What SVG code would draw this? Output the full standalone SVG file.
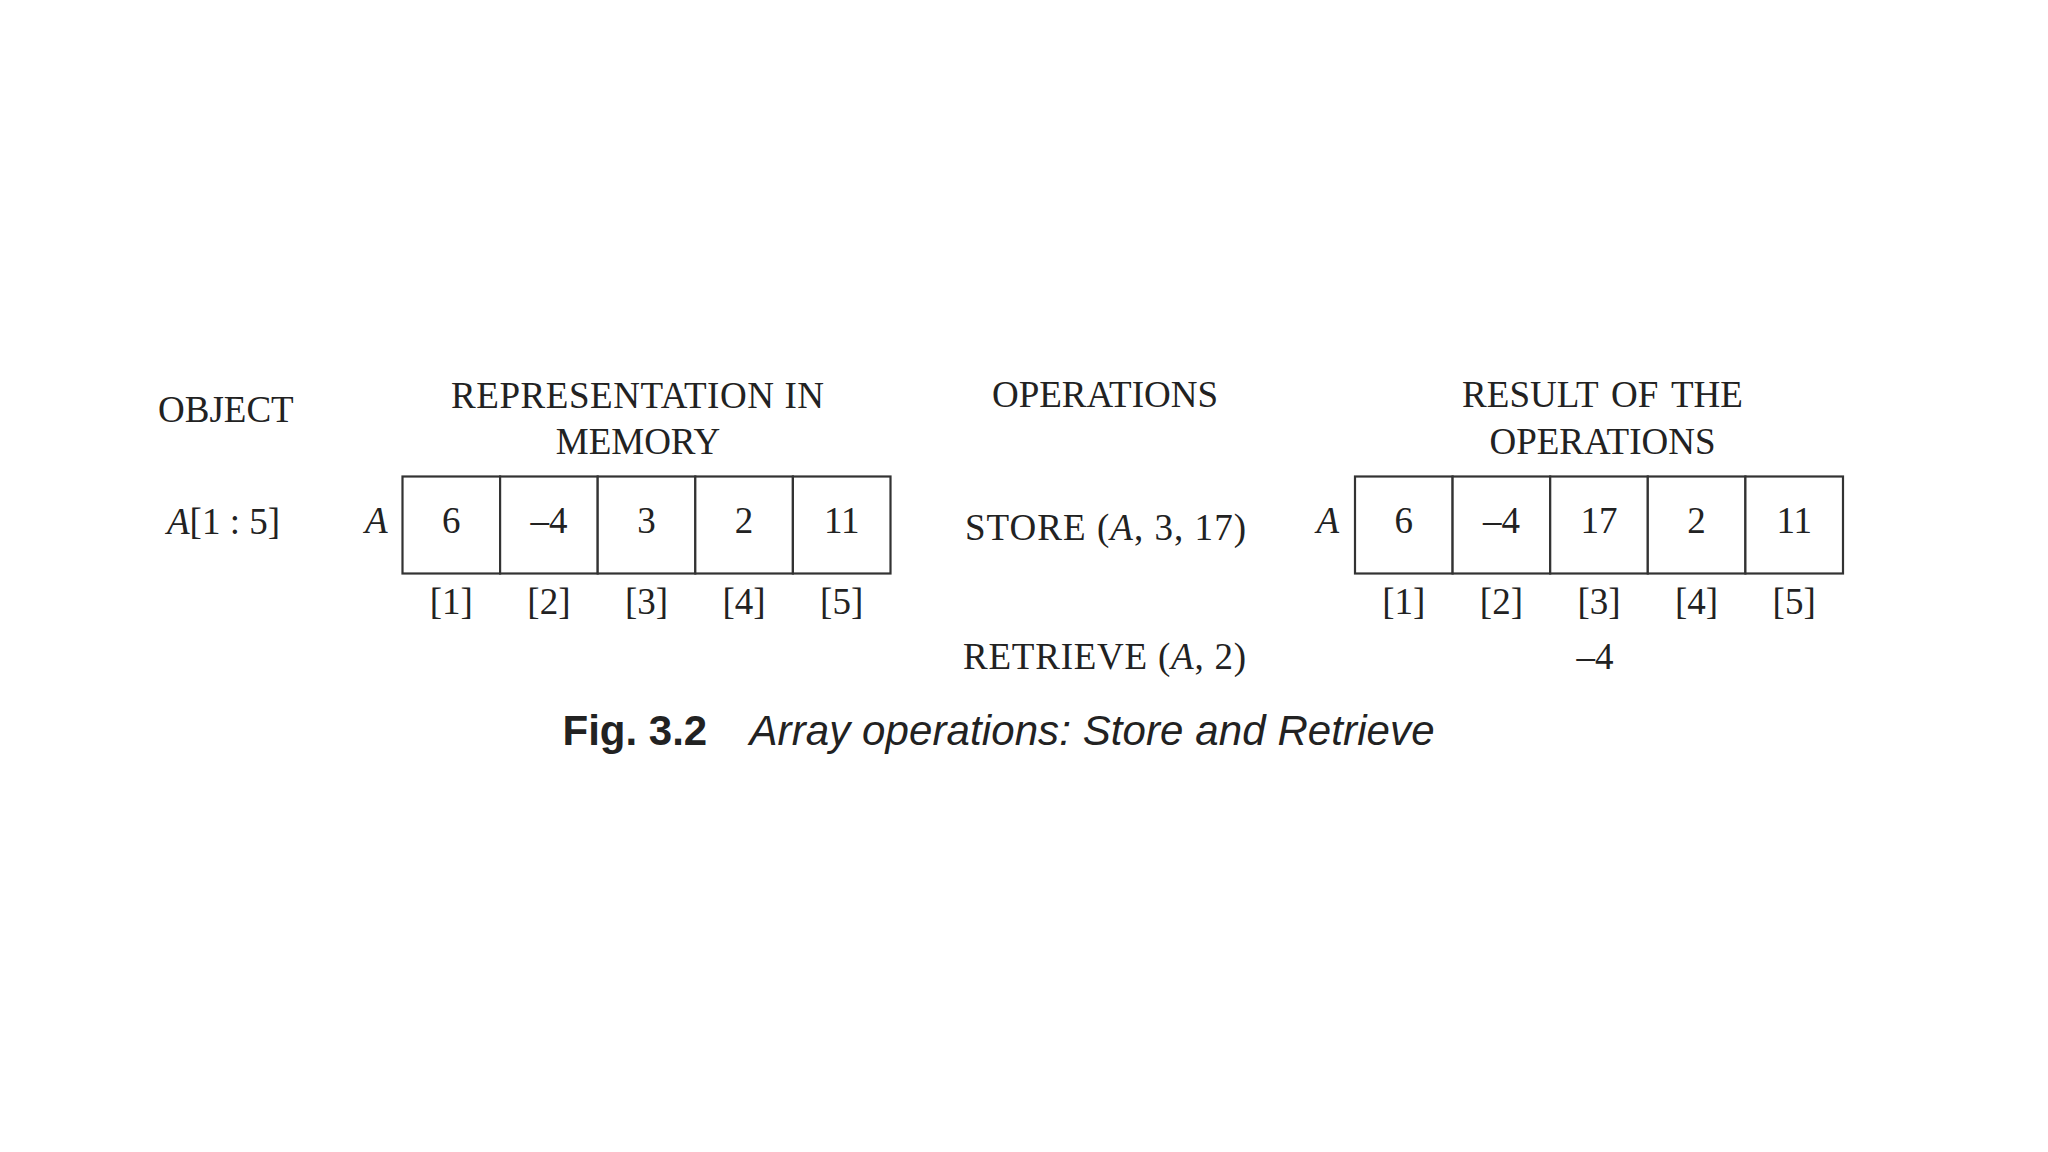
<svg xmlns="http://www.w3.org/2000/svg" width="2048" height="1152" viewBox="0 0 2048 1152">
<style>
.t{font-family:"Liberation Serif","Times New Roman",serif;font-size:37px;fill:#222}
.m{text-anchor:middle}
.i{font-style:italic}
.cell{fill:#fff;stroke:#333;stroke-width:2.2}
.cap{font-family:"Liberation Sans",Arial,sans-serif;font-size:42px;fill:#222}
</style>
<rect width="2048" height="1152" fill="#fff"/>
<g id="headers">
<text class="t" x="158" y="421.5">OBJECT</text>
<text class="t" x="451" y="408" textLength="373" lengthAdjust="spacing">REPRESENTATION IN</text>
<text class="t m" x="638" y="453.5">MEMORY</text>
<text class="t m" x="1105" y="407">OPERATIONS</text>
<text class="t m" x="1602.5" y="407" word-spacing="4">RESULT OF THE</text>
<text class="t m" x="1602.5" y="453.5">OPERATIONS</text>
</g>
<g id="object">
<text class="t" x="167" y="533.5"><tspan class="i">A</tspan>[1 : 5]</text>
</g>
<g id="array-memory">
<text class="t i" x="365" y="533">A</text>
<rect class="cell" x="402.5" y="476.5" width="97.6" height="97"/>
<rect class="cell" x="500.1" y="476.5" width="97.6" height="97"/>
<rect class="cell" x="597.7" y="476.5" width="97.6" height="97"/>
<rect class="cell" x="695.3" y="476.5" width="97.6" height="97"/>
<rect class="cell" x="792.9" y="476.5" width="97.6" height="97"/>
<text class="t m" x="451.3" y="533">6</text>
<text class="t m" x="548.9" y="533">–4</text>
<text class="t m" x="646.5" y="533">3</text>
<text class="t m" x="744.1" y="533">2</text>
<text class="t m" x="841.7" y="533">11</text>
<text class="t m" x="451.3" y="613.5">[1]</text>
<text class="t m" x="548.9" y="613.5">[2]</text>
<text class="t m" x="646.5" y="613.5">[3]</text>
<text class="t m" x="744.1" y="613.5">[4]</text>
<text class="t m" x="841.7" y="613.5">[5]</text>
</g>
<g id="op-store">
<text class="t" x="965" y="539.5" textLength="281" lengthAdjust="spacing">STORE (<tspan class="i">A</tspan>, 3, 17)</text>
</g>
<g id="op-retrieve">
<text class="t" x="963" y="668.5" textLength="283" lengthAdjust="spacing">RETRIEVE (<tspan class="i">A</tspan>, 2)</text>
</g>
<g id="array-result">
<text class="t i" x="1316.5" y="533">A</text>
<rect class="cell" x="1355" y="476.5" width="97.6" height="97"/>
<rect class="cell" x="1452.6" y="476.5" width="97.6" height="97"/>
<rect class="cell" x="1550.2" y="476.5" width="97.6" height="97"/>
<rect class="cell" x="1647.8" y="476.5" width="97.6" height="97"/>
<rect class="cell" x="1745.4" y="476.5" width="97.6" height="97"/>
<text class="t m" x="1403.8" y="533">6</text>
<text class="t m" x="1501.4" y="533">–4</text>
<text class="t m" x="1599" y="533">17</text>
<text class="t m" x="1696.6" y="533">2</text>
<text class="t m" x="1794.2" y="533">11</text>
<text class="t m" x="1403.8" y="613.5">[1]</text>
<text class="t m" x="1501.4" y="613.5">[2]</text>
<text class="t m" x="1599" y="613.5">[3]</text>
<text class="t m" x="1696.6" y="613.5">[4]</text>
<text class="t m" x="1794.2" y="613.5">[5]</text>
</g>
<g id="result-retrieve">
<text class="t m" x="1595" y="668.5">–4</text>
</g>
<g id="caption">
<text class="cap" x="562.5" y="745" font-weight="bold">Fig. 3.2</text>
<text class="cap" x="749.5" y="745" font-style="italic" textLength="685" lengthAdjust="spacing">Array operations: Store and Retrieve</text>
</g>
</svg>
